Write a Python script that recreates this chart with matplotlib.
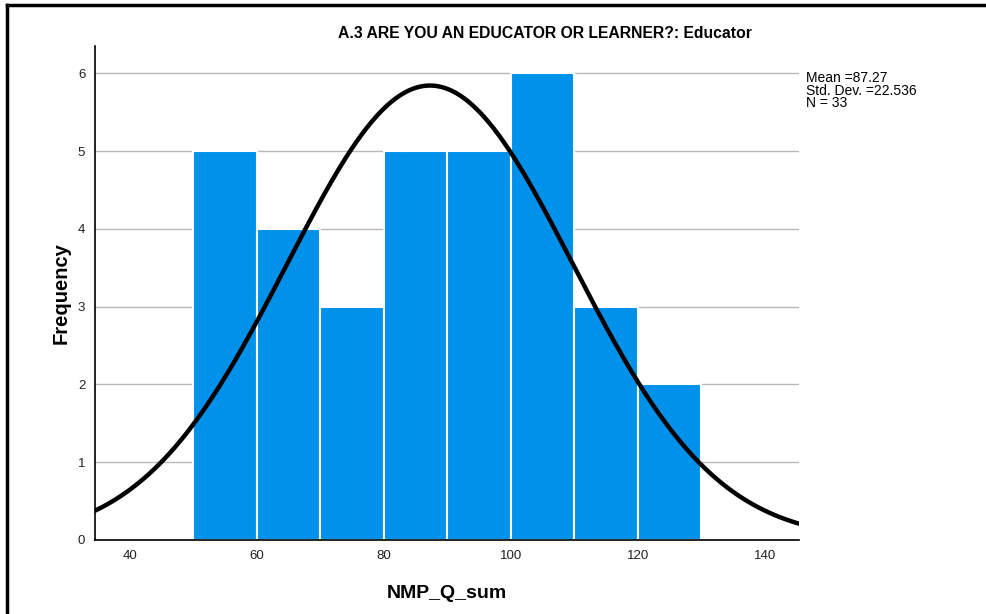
import numpy as np
import matplotlib
matplotlib.use("Agg")
import matplotlib.pyplot as plt
from matplotlib.lines import Line2D

bin_edges = [50, 60, 70, 80, 90, 100, 110, 120, 130]
counts = [5, 4, 3, 5, 5, 6, 3, 2]
mean = 87.27
std = 22.536
n = 33
title = "A.3 ARE YOU AN EDUCATOR OR LEARNER?: Educator"
xticks = [40, 60, 80, 100, 120, 140]
yticks = [0, 1, 2, 3, 4, 5, 6]

plt.rcParams['font.family'] = ['Liberation Sans', 'DejaVu Sans']

fig = plt.figure(figsize=(9.87, 6.14), dpi=100)
ax = fig.add_axes([95/987, 1-540/614, (799-95)/987, (540-46)/614])

lefts = bin_edges[:-1]
widths = np.diff(bin_edges)
ax.bar(lefts, counts, width=widths, align='edge', color='#0091EA',
       edgecolor='white', linewidth=1.5, zorder=2)

xs = np.linspace(34.5, 145.4, 400)
bw = bin_edges[1] - bin_edges[0]
ys = n * bw / (std * np.sqrt(2*np.pi)) * np.exp(-0.5*((xs-mean)/std)**2)
ax.plot(xs, ys, color='black', linewidth=3.2, zorder=3, solid_capstyle='round')

ax.set_xlim(34.5, 145.4)
ax.set_ylim(0, 6.35)
ax.set_xticks(xticks)
ax.set_yticks(yticks)
ax.tick_params(length=0, labelsize=9.5, colors='#222222', pad=7)
ax.yaxis.grid(True, color='#b8b8b8', linewidth=1, zorder=0)
ax.set_axisbelow(True)
for s in ['top', 'right']:
    ax.spines[s].set_visible(False)
ax.spines['left'].set_linewidth(1.2)
ax.spines['bottom'].set_linewidth(1.2)

ax.set_xlabel("NMP_Q_sum", fontsize=14, fontweight='bold', labelpad=17)
ax.set_ylabel("Frequency", fontsize=14.5, fontweight='bold', labelpad=5)

fig.text(545/987, 1-33/614, title, ha='center', va='center', fontsize=11.3, fontweight='bold')
fig.text(806/987, 1-71/614, f"Mean ={mean:.2f}\nStd. Dev. ={std:.3f}\nN = {n}",
         ha='left', va='top', fontsize=10, linespacing=0.88)

fig.add_artist(Line2D([7/987, 7/987], [0, 1-5/614], color='black', linewidth=2.5, transform=fig.transFigure))
fig.add_artist(Line2D([7/987, 1], [1-5/614, 1-5/614], color='black', linewidth=2.5, transform=fig.transFigure))

fig.savefig("out.png", dpi=100)
